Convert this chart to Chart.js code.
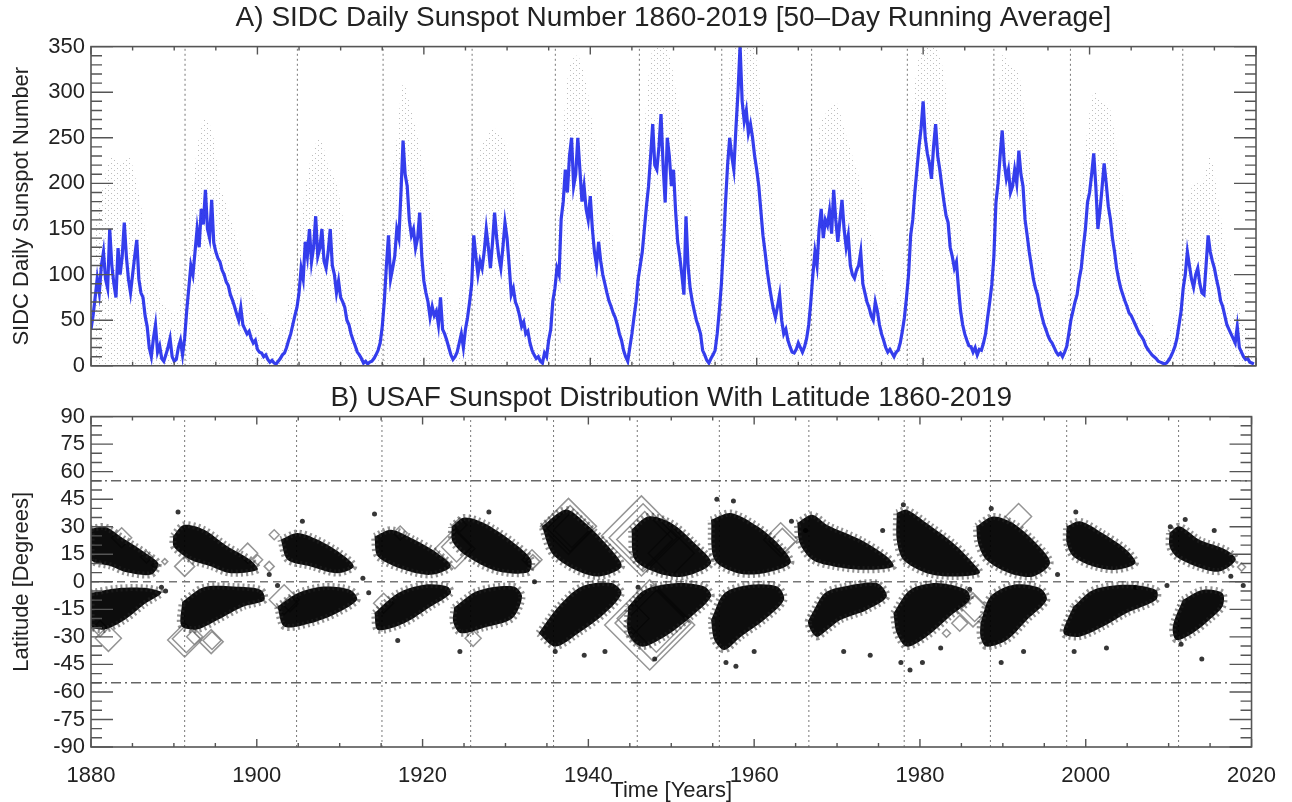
<!DOCTYPE html>
<html>
<head>
<meta charset="utf-8">
<title>SIDC / USAF sunspots</title>
<script src="https://cdn.jsdelivr.net/npm/chart.js@4.4.1/dist/chart.umd.min.js"></script>
<style>
  html, body { margin: 0; padding: 0; background: #fff; overflow: hidden; }
  canvas { position: absolute; left: 0; }
  #top { top: 0; }
  #bottom { top: 380px; }
</style>
</head>
<body>
<canvas id="top" width="1292" height="385"></canvas>
<canvas id="bottom" width="1292" height="422"></canvas>
<script>
// 50-day running average, 4 values per year starting 1880.0
const avgStart = 1880;
const avgValues = [
  40, 55, 75, 96,   80, 110, 125, 95,   85, 150, 110, 90,   75, 129, 100, 120,   157, 120, 95, 80,
  100, 120, 138, 95,   80, 75, 55, 43,   20, 10, 30, 45,   15, 22, 8, 5,   12, 20, 30, 10,
  5, 7, 20, 28,   12, 30, 60, 85,   110, 100, 125, 150,   130, 172, 155, 193,   150, 140, 182, 135,
  125, 118, 114, 105,   100, 92, 88, 78,   72, 65, 57, 50,   64, 45, 40, 35,   38, 30, 25, 28,
  18, 15, 14, 10,   12, 7, 4, 6,   3, 2, 5, 8,   12, 14, 20, 28,   35, 45, 55, 64,
  80, 107, 95, 136,   120, 150, 114, 130,   164, 120, 129, 150,   115, 107, 125, 150,   110, 100, 80, 93,
  75, 70, 64, 50,   45, 35, 28, 22,   15, 12, 8, 3,   5, 2, 4, 5,   8, 12, 17, 25,
  43, 71, 110, 143,   95, 107, 120, 150,   140, 190, 247, 210,   197, 160, 143, 150,   129, 140, 168, 120,
  93, 80, 70, 53,   65, 55, 60, 45,   75, 40, 35, 28,   20, 12, 7, 10,   15, 25, 35, 20,
  40, 53, 70, 90,   143, 120, 100, 115,   107, 125, 150, 130,   107, 135, 168, 140,   120, 107, 130, 157,
  140, 110, 78, 85,   70, 64, 55, 43,   48, 35, 38, 25,   17, 12, 8, 10,   5, 3, 14, 10,
  28, 40, 71, 85,   107, 100, 161, 180,   215, 190, 230, 250,   197, 210, 250, 215,   180, 197, 172, 160,
  186, 150, 125, 110,   136, 115, 100, 90,   80, 71, 65, 58,   53, 45, 35, 28,   17, 10, 5, 20,
  35, 53, 70, 95,   110, 125, 150, 175,   197, 230, 265, 220,   215, 240, 276, 220,   179, 250, 230, 197,
  215, 170, 136, 120,   100, 78, 164, 110,   85, 71, 60, 50,   43, 35, 17, 12,   6, 3, 8, 12,
  17, 35, 60, 89,   130, 179, 220, 250,   230, 215, 260, 300,   351, 290, 268, 280,   255, 265, 250, 230,
  215, 197, 170, 143,   125, 105, 89, 75,   62, 53, 65, 78,   50, 35, 40, 28,   21, 15, 14, 18,
  25, 20, 15, 21,   30, 45, 70, 100,   125, 110, 150, 172,   140, 160, 154, 170,   145, 193, 160, 136,
  160, 182, 150, 130,   143, 110, 100, 96,   105, 110, 125, 90,   80, 70, 64, 55,   50, 70, 60, 45,
  35, 28, 20, 15,   18, 14, 10, 15,   17, 25, 38, 53,   75, 100, 143, 160,   190, 215, 240, 260,
  290, 250, 233, 222,   205, 240, 265, 230,   215, 197, 180, 165,   157, 130, 120, 107,   114, 85, 60, 45,
  35, 28, 22, 21,   15, 20, 12, 18,   17, 25, 35, 53,   70, 89, 120, 179,   200, 230, 258, 222,
  205, 215, 190, 197,   215, 200, 236, 210,   197, 160, 143, 125,   110, 95, 85, 78,   65, 55, 46, 40,
  33, 28, 25, 20,   15, 12, 14, 10,   15, 21, 35, 50,   60, 70, 78, 95,   107, 130, 150, 179,
  190, 210, 233, 197,   150, 170, 195, 222,   200, 175, 161, 140,   125, 107, 95, 85,   78, 71, 65, 58,
  55, 50, 45, 40,   35, 32, 28, 22,   18, 15, 12, 10,   8, 5, 4, 3,   2, 3, 6, 10,
  15, 21, 30, 45,   60, 85, 100, 125,   110, 95, 86, 100,   107, 90, 80, 78,   110, 143, 125, 115,
  107, 95, 85, 71,   65, 55, 45, 40,   35, 30, 25, 43,   20, 15, 10, 7,   8, 4, 3, 2
];

// upper edge of the grey daily values, one per year 1880..2019
const dailyStart = 1880;
const dailyHigh = [
  150, 200, 230, 220, 230, 200, 150, 100, 70, 60,
  60, 140, 220, 270, 260, 200, 170, 140, 110, 80,
  60, 50, 40, 60, 110, 180, 230, 250, 220, 200,
  150, 90, 60, 40, 80, 200, 230, 310, 280, 240,
  190, 140, 100, 60, 80, 150, 230, 250, 260, 250,
  220, 140, 100, 60, 50, 130, 230, 330, 340, 310,
  250, 200, 150, 100, 70, 120, 260, 350, 355, 340,
  290, 230, 140, 90, 50, 150, 300, 360, 360, 355,
  300, 230, 150, 110, 70, 70, 180, 260, 280, 290,
  260, 230, 200, 150, 130, 90, 60, 110, 260, 340,
  355, 350, 320, 230, 170, 90, 60, 110, 220, 340,
  330, 320, 250, 170, 110, 80, 50, 80, 170, 240,
  300, 290, 280, 220, 150, 110, 80, 50, 30, 35,
  80, 170, 200, 200, 230, 180, 120, 80, 50, 30
];

// dotted vertical lines (start of each cycle)
const cycleStarts = [1891.3, 1904.8, 1915.1, 1925.8, 1935.8, 1945.9, 1955.8, 1966.6, 1978.1, 1988.5, 1997.7, 2011.2];

// butterfly wings, outline [year, latitude] per cycle 12..24
const northWings = [
  [[1880,29],[1881.7,30],[1884.1,23],[1886.5,16],[1888.1,10],[1887.3,4],[1884.4,5],[1882.4,8.5],[1880,12]],
  [[1889.9,25],[1891.2,31],[1893.6,28.5],[1896.4,19.5],[1899.2,12],[1900.1,6.5],[1896.8,4.7],[1894.4,8.5],[1892,12],[1890,19]],
  [[1902.9,23],[1904.9,26.6],[1907.3,23],[1910.1,15.6],[1911.7,8.4],[1909.7,4.7],[1906.5,8.4],[1903.7,12]],
  [[1914.2,24.7],[1916.2,28.4],[1919,23],[1921.8,15.6],[1923.4,8.4],[1921,3.8],[1917.8,6.5],[1914.6,13.8]],
  [[1923.5,30],[1925,35],[1927.4,32],[1930.8,22],[1933.1,12],[1932.7,5],[1928.8,6],[1925.3,14],[1923.6,22]],
  [[1934.4,30.2],[1937.2,39.3],[1939.2,33.8],[1942.4,19.3],[1944,8.4],[1941.2,2.9],[1938.4,6.5],[1935.6,15.6]],
  [[1945.2,28.4],[1947.2,35.6],[1950,32],[1952.8,21.1],[1954.8,10.2],[1951.6,2.9],[1948.4,4.7],[1945.6,12]],
  [[1954.8,33.8],[1957.2,37.5],[1960.4,30.2],[1963.2,19.3],[1964.4,10.2],[1961.2,4.7],[1958,4.7],[1955.2,12]],
  [[1965.2,32],[1967,36.5],[1968.8,31],[1972.8,23],[1976,13.8],[1976.8,8.4],[1973.6,6.5],[1969.6,8.4],[1967,12],[1965.5,21]],
  [[1977.2,37.5],[1978.4,39.3],[1980.8,32],[1984,21.1],[1986.4,10.2],[1987.2,4.7],[1984,2.9],[1980.8,4.7],[1978,12],[1977.2,22.9]],
  [[1986.8,30.2],[1988.8,35.6],[1991.2,32],[1994,21.1],[1995.7,10.2],[1993.7,2.9],[1990.8,4.7],[1988,12],[1987,21.1]],
  [[1997.7,30.2],[1999.3,33],[2002,26.6],[2004.9,17.5],[2006,10.2],[2003.7,6.5],[2000.9,8.4],[1998.5,13.8],[1997.7,21.1]],
  [[2010.1,26.6],[2011.3,30.2],[2013.7,22.9],[2016.9,17.5],[2018.1,12],[2016.1,5.6],[2013.3,8.4],[2010.9,13.8],[2010.1,19.3]]
];
const southWings = [
  [[1880,-6],[1883.2,-3.5],[1886.9,-3.5],[1888.5,-6],[1886.5,-12],[1884,-21],[1881.6,-26],[1880,-24]],
  [[1891,-11],[1893.6,-3],[1897.2,-2.6],[1900.5,-4.4],[1900.9,-10],[1898.4,-13.5],[1895.2,-21],[1892.8,-26],[1890.9,-24]],
  [[1902.5,-13.5],[1904.9,-6.2],[1908.1,-2.6],[1911.3,-4.4],[1912.1,-9.8],[1909.7,-17],[1906.5,-22.6],[1903.3,-24.4]],
  [[1914.2,-17],[1917,-6.2],[1920.2,-1.6],[1923,-2.6],[1923.4,-6.2],[1921,-13.5],[1917.8,-22.6],[1914.6,-26.2]],
  [[1923.8,-14],[1926.6,-5],[1931,-2.5],[1932,-8],[1930.8,-20],[1927.4,-25],[1924.6,-28],[1923.7,-22]],
  [[1934,-28],[1936.4,-13.5],[1939.2,-2.6],[1942.8,-0.7],[1944,-6.2],[1942,-17.1],[1938.8,-28],[1936,-35.3]],
  [[1944.8,-13.5],[1946.8,-4.4],[1950.8,-0.7],[1954,-2.6],[1954.8,-8],[1952.4,-19],[1949.2,-29.9],[1946.4,-35.3],[1944.8,-28]],
  [[1954.8,-20.8],[1956.4,-6.2],[1959.6,-1.6],[1962.8,-2.6],[1963.6,-9.8],[1961.2,-20.8],[1958.4,-29.9],[1956.4,-37.1],[1955.2,-31.7]],
  [[1967,-17],[1968.5,-6.2],[1970.8,-2.6],[1974.8,-0.7],[1976,-8],[1973.6,-15.3],[1970.4,-20.8],[1968.8,-26.2],[1967.5,-30],[1966.5,-22.6]],
  [[1976.8,-17.1],[1978.8,-4.4],[1982,-0.7],[1985.6,-4.4],[1986,-9.8],[1983.6,-18.9],[1980.8,-29.9],[1978.4,-35.3],[1977.2,-28]],
  [[1987.3,-22.6],[1988.5,-8],[1991.3,-1.6],[1994.5,-3.5],[1995.3,-9.8],[1992.9,-20.8],[1990.5,-31.7],[1988,-35.3],[1987.3,-29.9]],
  [[1998.5,-13.5],[2000.9,-4.4],[2004.9,-1.6],[2008.5,-4.4],[2008.5,-9.8],[2004.9,-17.1],[2002.1,-24.4],[1999.3,-29.9],[1997.5,-29],[1997.3,-26.2]],
  [[2011.7,-9.8],[2014.1,-4.4],[2016.5,-6.2],[2016.5,-13.5],[2014.9,-20.8],[2012.9,-28],[2010.9,-31.7],[2010.5,-24.4]]
];

// isolated spots outside the main wings [year, latitude]
const straySpots = [
  [1890.5,38],[1889,-5],[1888.5,-3],[1901.5,4],[1902.5,-2],[1905.5,33],[1912.8,2],[1913.5,-6],[1914.2,37],
  [1917,-32],[1924.5,-38],[1928,38],[1933.5,0],[1936,-38],[1939.5,-40],[1942,-38],[1946,-3],[1948,-42],
  [1955.5,45],[1957.5,44],[1957.8,-46],[1956.6,-44],[1960,-38],[1964.5,33],[1966.2,28],[1970.8,-38],
  [1974,-40],[1975.5,28],[1978,42],[1977.7,-44],[1978.8,-48],[1980.3,-44],[1982.5,-36],[1986,-4],
  [1988.6,40],[1989.8,-44],[1992.5,-38],[1996.6,4],[1998.8,38],[1998.6,-38],[2002.5,-36],[2006,-3],
  [2009.8,-2],[2010.2,30],[2012,34],[2015.5,28],[2017.5,3],[2019,-2],[2011.5,-34],[2014,-42]
];

// large spot groups shown as open diamonds [year, latitude, size]
const spotDiamonds = [
  [1881.1,-25.5,8],[1882.1,-30.8,13],[1883.7,24,10],[1886.7,13.5,6],[1888.9,11,3],[1887.8,9,4],
  [1891.3,-31.7,17],[1891.5,-31,14],[1892.5,-29.9,8],[1894.5,-32.6,12],[1894.6,-32,9],
  [1891.3,8.4,10],[1898.9,15.6,10],[1900.1,12,5],[1901.5,8.4,5],
  [1902.1,25.6,5],[1903.3,-9.8,15],[1904,-12,8],[1915.3,-11.7,10],[1917.3,26.6,7],
  [1923.9,18,20],[1924.1,19,15],[1926.1,-30.8,8],[1924.5,31,7],[1933.2,12,10],[1933.3,11,7],
  [1937.6,30.2,28],[1937.8,29,23],[1938,28.4,18],
  [1946.4,25,40],[1946.6,24,34],[1946.8,23,28],[1950,15.6,23],
  [1947.4,-23.5,45],[1947.8,-22.5,38],[1948.2,-21.5,31],[1945.4,-20,16],
  [1963.2,22.9,17],[1963.4,22,13],
  [1986.4,-15.3,17],[1986.6,-14.5,13],[1984.8,-22.6,8],[1991.9,35.6,13],[1983.2,-28,4],[2018.8,8,4]
];

const latLimits = [55, -55];

Chart.defaults.font.family = "'Liberation Sans', Arial, Helvetica, sans-serif";
Chart.defaults.color = '#222';

// IDL-like frame with inward ticks on all four sides
const frameTicks = {
  id: 'frameTicks',
  afterDatasetsDraw(chart, args, opts) {
    const { ctx, chartArea: a } = chart;
    const xs = chart.scales.x, ys = chart.scales.y;
    ctx.save();
    ctx.strokeStyle = '#555';
    ctx.lineWidth = 1.4;
    ctx.beginPath();
    for (let v = opts.xFrom; v <= opts.xTo; v += opts.xMinor) {
      const px = xs.getPixelForValue(v);
      const len = (v - opts.xFrom) % opts.xMajor === 0 ? 8 : 4;
      ctx.moveTo(px, a.bottom); ctx.lineTo(px, a.bottom - len);
      ctx.moveTo(px, a.top); ctx.lineTo(px, a.top + len);
    }
    for (let v = opts.yFrom; v <= opts.yTo; v += opts.yMinor) {
      const py = ys.getPixelForValue(v);
      const len = (v - opts.yFrom) % opts.yMajor === 0 ? 22 : 11;
      ctx.moveTo(a.left, py); ctx.lineTo(a.left + len, py);
      ctx.moveTo(a.right, py); ctx.lineTo(a.right - len, py);
    }
    ctx.stroke();
    ctx.lineWidth = 1.6;
    ctx.strokeRect(a.left, a.top, a.right - a.left, a.bottom - a.top);
    ctx.restore();
  }
};

// faint speckle used for the daily values
const speck = document.createElement('canvas');
speck.width = 6; speck.height = 5;
const sctx = speck.getContext('2d');
sctx.fillStyle = 'rgba(90,90,90,0.4)';
sctx.fillRect(0, 0, 1, 1);
sctx.fillRect(3, 3, 1, 1);
const speckPattern = sctx.createPattern(speck, 'repeat');

function vLine(x, y0, y1) {
  return {
    type: 'line', data: [{ x: x, y: y0 }, { x: x, y: y1 }],
    borderColor: '#777', borderWidth: 1, borderDash: [2, 3], pointRadius: 0, fill: false
  };
}

function hLine(y, dash, color) {
  return {
    type: 'line', data: [{ x: 1880, y: y }, { x: 2020, y: y }],
    borderColor: color, borderWidth: 1.5, borderDash: dash, pointRadius: 0, fill: false
  };
}

function wing(points) {
  return {
    type: 'line',
    data: points.concat([points[0]]).map(p => ({ x: p[0], y: p[1] })),
    fill: 'shape',
    backgroundColor: 'rgba(0,0,0,0.95)',
    borderColor: 'rgba(40,40,40,0.5)',
    borderWidth: 7,
    borderDash: [2, 3],
    pointRadius: 0,
    tension: 0.3
  };
}

function yAxis(min, max, step, title) {
  return {
    min: min, max: max,
    ticks: { stepSize: step, autoSkip: false, padding: 6, font: { size: 22 }, color: '#222' },
    grid: { display: false, drawTicks: false },
    border: { display: false },
    title: { display: true, text: title, font: { size: 22 }, color: '#222', padding: { top: 9, bottom: 0 } },
    afterFit: s => { s.width = 91; }
  };
}

// ---- A) daily sunspot number
const topDatasets = [
  {
    type: 'line',
    data: avgValues.map((v, i) => ({ x: avgStart + i / 4, y: v })),
    borderColor: 'rgba(25,35,235,0.88)', borderWidth: 3.2, pointRadius: 0, fill: false, tension: 0
  },
  {
    type: 'line',
    data: dailyHigh.map((v, i) => ({ x: dailyStart + i + 0.5, y: v })),
    borderWidth: 0, pointRadius: 0, fill: 'origin', backgroundColor: speckPattern, tension: 0.3
  }
];
cycleStarts.forEach(x => topDatasets.push(vLine(x, 0, 350)));

new Chart(document.getElementById('top'), {
  type: 'line',
  data: { datasets: topDatasets },
  options: {
    responsive: false, animation: false, events: [],
    layout: { autoPadding: false, padding: { left: 0, right: 36, top: 0, bottom: 12 } },
    scales: {
      x: { type: 'linear', min: 1880, max: 2020, display: false },
      y: yAxis(0, 350, 50, 'SIDC Daily Sunspot Number')
    },
    plugins: {
      legend: { display: false },
      tooltip: { enabled: false },
      title: {
        display: true, fullSize: false,
        text: 'A) SIDC Daily Sunspot Number 1860-2019 [50\u2013Day Running Average]',
        font: { size: 28, weight: 'normal' }, color: '#222', padding: { top: 1, bottom: 12 }
      },
      frameTicks: { xFrom: 1880, xTo: 2020, xMinor: 5, xMajor: 20, yFrom: 0, yTo: 350, yMinor: 10, yMajor: 50 }
    }
  },
  plugins: [frameTicks]
});

// ---- B) butterfly diagram
const bottomDatasets = [];
northWings.forEach(w => bottomDatasets.push(wing(w)));
southWings.forEach(w => bottomDatasets.push(wing(w)));
bottomDatasets.push({
  type: 'scatter',
  data: straySpots.map(p => ({ x: p[0], y: p[1] })),
  backgroundColor: 'rgba(20,20,20,0.85)', borderWidth: 0, pointRadius: 2.5
});
bottomDatasets.push({
  type: 'bubble',
  data: spotDiamonds.map(p => ({ x: p[0], y: p[1], r: p[2] })),
  pointStyle: 'rectRot', backgroundColor: 'rgba(0,0,0,0)',
  borderColor: 'rgba(130,130,130,0.85)', borderWidth: 1.5
});
bottomDatasets.push(hLine(0, [8, 5], '#777'));
latLimits.forEach(l => bottomDatasets.push(hLine(l, [10, 4, 2, 4], '#666')));
cycleStarts.forEach(x => bottomDatasets.push(vLine(x, -90, 90)));

new Chart(document.getElementById('bottom'), {
  type: 'line',
  data: { datasets: bottomDatasets },
  options: {
    responsive: false, animation: false, events: [],
    layout: { autoPadding: false, padding: { left: 0, right: 36, top: 0, bottom: 0 } },
    scales: {
      x: {
        type: 'linear', min: 1880, max: 2020,
        ticks: { stepSize: 20, padding: 16, font: { size: 22 }, color: '#222', callback: v => String(v) },
        grid: { display: false, drawTicks: false },
        border: { display: false },
        title: { display: true, text: 'Time [Years]', font: { size: 22, lineHeight: 1 }, color: '#222', padding: 0 },
        afterFit: s => { s.height = 55; }
      },
      y: yAxis(-90, 90, 15, 'Latitude [Degrees]')
    },
    plugins: {
      legend: { display: false },
      tooltip: { enabled: false },
      title: {
        display: true, fullSize: false,
        text: 'B) USAF Sunspot Distribution With Latitude 1860-2019',
        font: { size: 28, weight: 'normal' }, color: '#222', padding: { top: 1, bottom: 2 }
      },
      frameTicks: { xFrom: 1880, xTo: 2020, xMinor: 5, xMajor: 20, yFrom: -90, yTo: 90, yMinor: 5, yMajor: 15 }
    }
  },
  plugins: [frameTicks]
});
</script>
</body>
</html>
